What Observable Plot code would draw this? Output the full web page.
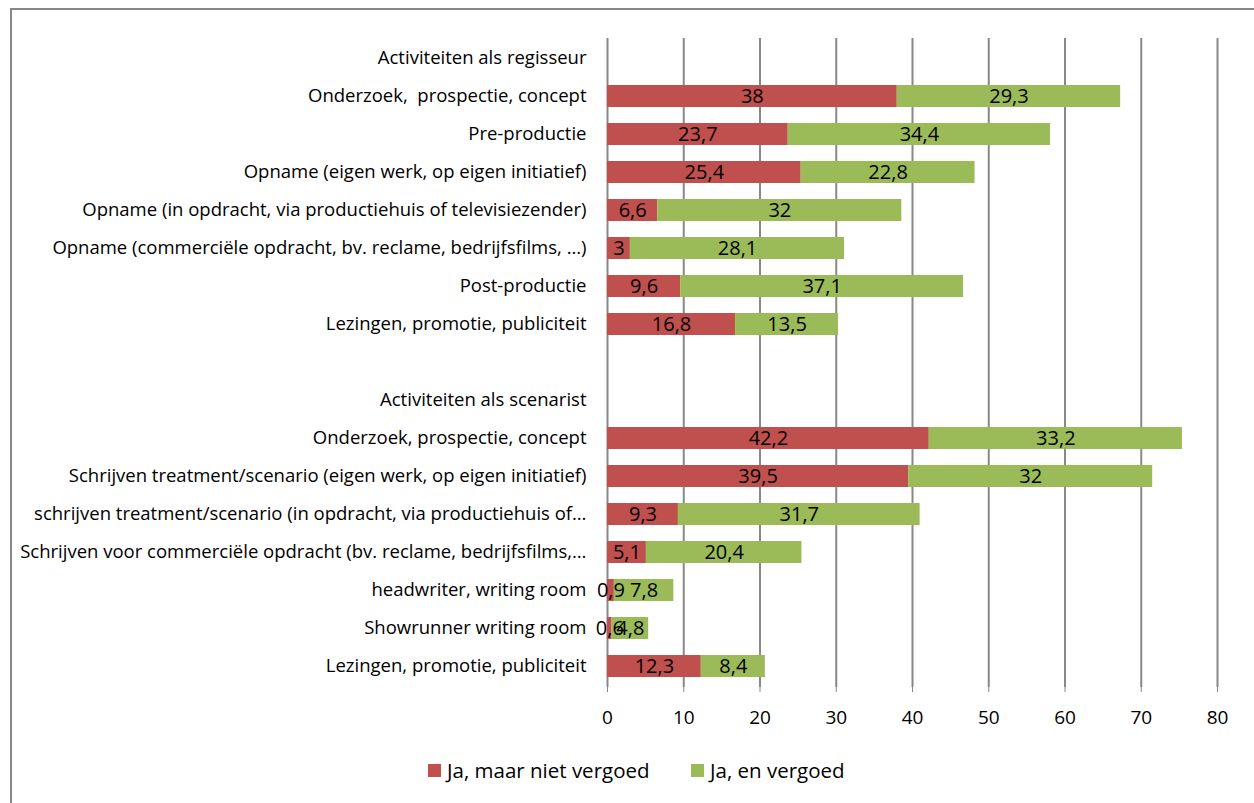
<!DOCTYPE html>
<html>
<head>
<meta charset="utf-8">
<script src="https://cdn.jsdelivr.net/npm/d3@7"></script>
<script src="https://cdn.jsdelivr.net/npm/@observablehq/plot@0.6"></script>
<style>
  html, body { margin: 0; padding: 0; background: #fff; overflow: hidden; }
  body { width: 1254px; height: 803px; position: relative; font-family: "Open Sans", sans-serif; }
  #frame { position: absolute; left: 10px; top: 8px; width: 1300px; height: 900px; border: 2px solid #888; box-sizing: border-box; }
  #chart { position: absolute; left: 0; top: 0; }
  #legend { position: absolute; top: 755px; left: 0; width: 1254px; height: 30px; font-size: 20.5px; color: #000; }
  .item { position: absolute; top: 0; display: flex; align-items: center; height: 30px; }
  .sw { width: 13px; height: 13px; margin-right: 6px; }
</style>
</head>
<body>
<div id="frame"></div>
<div id="chart"></div>
<div id="legend"></div>
<script>
const categories = [
  "Activiteiten als regisseur",
  "Onderzoek,  prospectie, concept",
  "Pre-productie",
  "Opname (eigen werk, op eigen initiatief)",
  "Opname (in opdracht, via productiehuis of televisiezender)",
  "Opname (commerciële opdracht, bv. reclame, bedrijfsfilms, …)",
  "Post-productie",
  "Lezingen, promotie, publiciteit",
  "",
  "Activiteiten als scenarist",
  "Onderzoek, prospectie, concept",
  "Schrijven treatment/scenario (eigen werk, op eigen initiatief)",
  "schrijven treatment/scenario (in opdracht, via productiehuis of…",
  "Schrijven voor commerciële opdracht (bv. reclame, bedrijfsfilms,…",
  "headwriter, writing room",
  "Showrunner writing room",
  "Lezingen, promotie, publiciteit"
];
const notPaid = [null, 38, 23.7, 25.4, 6.6, 3, 9.6, 16.8, null, null, 42.2, 39.5, 9.3, 5.1, 0.9, 0.6, 12.3];
const paid    = [null, 29.3, 34.4, 22.8, 32, 28.1, 37.1, 13.5, null, null, 33.2, 32, 31.7, 20.4, 7.8, 4.8, 8.4];
const seriesNames = ["Ja, maar niet vergoed", "Ja, en vergoed"];
const seriesColors = ["#C0504D", "#9BBB59"];
const xTicks = [0, 10, 20, 30, 40, 50, 60, 70, 80];

const keys = categories.map((c, i) => String(i));
const rows = [];
categories.forEach((c, i) => {
  if (notPaid[i] != null) rows.push({key: String(i), series: seriesNames[0], value: notPaid[i]});
  if (paid[i] != null) rows.push({key: String(i), series: seriesNames[1], value: paid[i]});
});
const fmt = v => String(v).replace(".", ",");

const chart = Plot.plot({
  width: 1254,
  height: 745,
  marginTop: 38,
  marginLeft: 607,
  marginRight: 37,
  marginBottom: 58,
  style: {fontFamily: "Open Sans, sans-serif", fontSize: "18px", color: "#000", background: "transparent"},
  x: {domain: [0, 80], ticks: xTicks, label: null},
  y: {domain: keys, paddingInner: 0.42, paddingOuter: 0.21, label: null},
  color: {domain: seriesNames, range: seriesColors},
  marks: [
    Plot.ruleX(xTicks, {stroke: "#888", strokeWidth: 2}),
    Plot.barX(rows, Plot.stackX({x: "value", y: "key", fill: "series", z: "series"})),
    Plot.text(rows, Plot.stackX({x: "value", y: "key", z: "series", text: d => fmt(d.value), fontSize: 20, fill: "#000"})),
    Plot.axisX({ticks: xTicks, tickSize: 5, tickPadding: 18, stroke: "#888", fontSize: 19, tickFormat: d => String(d)}),
    Plot.axisY({tickSize: 0, tickPadding: 21, fontSize: 18.5, tickFormat: d => categories[+d]})
  ]
});
document.getElementById("chart").appendChild(chart);

const legend = document.getElementById("legend");
const legendX = [428, 691];
seriesNames.forEach((n, i) => {
  const it = document.createElement("div");
  it.className = "item";
  it.style.left = legendX[i] + "px";
  it.innerHTML = `<span class="sw" style="background:${seriesColors[i]}"></span><span>${n}</span>`;
  legend.appendChild(it);
});
</script>
</body>
</html>
